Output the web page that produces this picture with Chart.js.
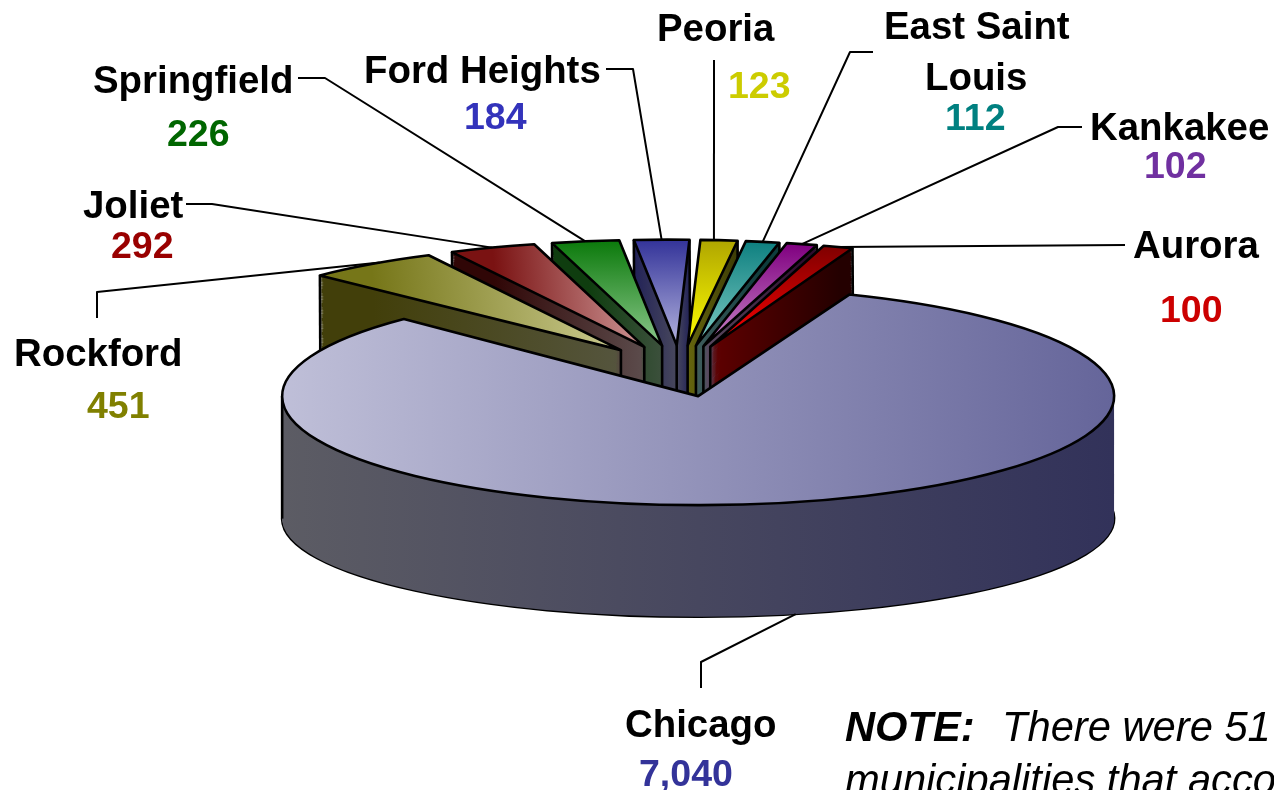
<!DOCTYPE html>
<html>
<head>
<meta charset="utf-8">
<title>Municipalities</title>
<script src="https://cdn.jsdelivr.net/npm/chart.js@4/dist/chart.umd.min.js"></script>
<style>
    html, body { margin: 0; padding: 0; background: #fff; overflow: hidden; }
    canvas { display: block; }
</style>
</head>
<body>
<canvas id="pie3d" width="1274" height="790"></canvas>
<script>
// Chart data
const categories = ['Chicago', 'Rockford', 'Joliet', 'Springfield', 'Ford Heights', 'Peoria', 'East Saint Louis', 'Kankakee', 'Aurora'];
const values = [7040, 451, 292, 226, 184, 123, 112, 102, 100];

// Colours: top face from/to, wall from/to
const topFrom = ['#bfbfd8', '#767618', '#7a1212', '#0c7a0c', '#333399', '#b0a600', '#0e8080', '#800080', '#800000'];
const topTo = ['#65659a', '#cbcb90', '#cc9494', '#8cc88c', '#b4b4de', '#ffff00', '#80ccc4', '#c888c8', '#ff0000'];
const wallFrom = ['#5c5c64', '#423f0a', '#300606', '#0f3d0f', '#222258', '#3c3c06', '#0e3c3c', '#2e0c2e', '#240000'];
const wallTo = ['#32325a', '#55553e', '#5c4c4c', '#3c503c', '#48485c', '#66660e', '#3f5c5c', '#5c4c62', '#600000'];
const valueColors = ['#333399', '#808000', '#990000', '#006600', '#3333bb', '#cccc00', '#008080', '#7030a0', '#cc0000'];
const horizontalFade = [true, true, true, false, false, false, false, false, false];

// Label layout, in the same order as categories
const nameLines = [['Chicago'], ['Rockford'], ['Joliet'], ['Springfield'], ['Ford Heights'], ['Peoria'], ['East Saint', 'Louis'], ['Kankakee'], ['Aurora']];
const nameX = [[625], [14], [83], [93], [364], [657], [884, 925], [1090], [1133]];
const nameY = [[737], [366], [218], [93], [83], [41], [39, 90], [140], [258]];
const valueX = [639, 87, 111, 167, 464, 728, 945, 1144, 1160];
const valueY = [786, 418, 258, 146, 129, 98, 130, 178, 322];
const leaders = [
    [[701, 688], [701, 662]],
    [[97, 318], [97, 292]],
    [[186, 204], [212, 204]],
    [[298, 78], [325, 78]],
    [[606, 69], [633, 69]],
    [[714, 60]],
    [[873, 52], [850, 52]],
    [[1082, 127], [1058, 127]],
    [[1125, 245]]
];
const leaderNudge = [-1.7, 1.5, 0, 0, 0, -0.7, 0, 0, 0]; // degrees along the rim

// 3D look of the pie
const radius = 416;
const explode = 98;
const tiltTop = 0.262;
const tiltBottom = 0.236;
const depth = 125;
const smallLean = 0.09;   // perspective lean of the small slices
const smallSquash = 0.97;
const fontFamily = '"Liberation Sans", Arial, sans-serif';

function midAngle(arc) {
    return (arc.startAngle + arc.endAngle) / 2;
}

function isBig(arc) {
    return arc.circumference > Math.PI;
}

// Where a layer of the slice sits: t = 0 is the top face, t = 1 the bottom face
function layer(arc, t) {
    const k = tiltTop + (tiltBottom - tiltTop) * t;
    const h = midAngle(arc);
    return {
        x: arc.x + explode * Math.cos(h),
        y: arc.y + explode * k * Math.sin(h) + depth * t,
        k: isBig(arc) ? k : k * smallSquash,
        lean: isBig(arc) ? 0 : smallLean
    };
}

function applyLayer(ctx, l) {
    ctx.translate(l.x, l.y);
    ctx.transform(1, 0, l.lean, 1, 0, 0);
    ctx.scale(1, l.k);
}

function rimPoint(arc, angle, t) {
    const l = layer(arc, t);
    const dy = arc.outerRadius * l.k * Math.sin(angle);
    return [l.x + arc.outerRadius * Math.cos(angle) + l.lean * dy, l.y + dy];
}

function facePath(ctx, arc, t) {
    const l = layer(arc, t);
    ctx.save();
    applyLayer(ctx, l);
    ctx.beginPath();
    ctx.moveTo(0, 0);
    ctx.arc(0, 0, arc.outerRadius, arc.startAngle, arc.endAngle);
    ctx.closePath();
    ctx.restore();
}

function fadeFor(ctx, arc, i, from, to) {
    const h = midAngle(arc);
    let g;
    if (i === 0) {
        g = ctx.createLinearGradient(arc.x - radius, 0, arc.x + radius, 0);
    } else if (horizontalFade[i] || from === wallFrom[i]) {
        g = ctx.createLinearGradient(arc.x + radius * Math.cos(h), 0, arc.x, 0);
        if (Math.abs(Math.cos(h)) < 0.1) g = ctx.createLinearGradient(0, arc.y - radius, 0, arc.y);
    } else {
        g = ctx.createLinearGradient(0, arc.y + radius * Math.sin(h), 0, arc.y);
    }
    g.addColorStop(0, from);
    g.addColorStop(1, to);
    return g;
}

// Draws the library's arc element squashed on to one layer
function drawLayer(ctx, arc, t, fill) {
    const keep = arc.options;
    arc.options = Object.assign({}, keep, { backgroundColor: fill, borderWidth: 0 });
    ctx.save();
    applyLayer(ctx, layer(arc, t));
    ctx.translate(-arc.x, -arc.y);
    arc.draw(ctx);
    ctx.restore();
    arc.options = keep;
}

function edge(ctx, a, b) {
    ctx.beginPath();
    ctx.moveTo(a[0], a[1]);
    ctx.lineTo(b[0], b[1]);
    ctx.stroke();
}

function drawSlice(ctx, arc, i) {
    ctx.strokeStyle = '#000';
    ctx.lineWidth = 2.6;
    ctx.lineJoin = 'round';

    facePath(ctx, arc, 1);
    ctx.stroke();

    const wall = fadeFor(ctx, arc, i, wallFrom[i], wallTo[i]);
    for (let n = depth; n >= 1; n--) {
        drawLayer(ctx, arc, n / depth, wall);
    }

    // vertical edges, only where the cut face turns toward the viewer
    const angles = [];
    if (Math.sin(arc.startAngle - Math.PI / 2) > 0) angles.push(arc.startAngle);
    if (Math.sin(arc.endAngle + Math.PI / 2) > 0) angles.push(arc.endAngle);
    [Math.PI, Math.PI * 2, Math.PI * 3].forEach(a => {
        if (a > arc.startAngle && a < arc.endAngle) angles.push(a);
    });
    angles.forEach(a => edge(ctx, rimPoint(arc, a, 0), rimPoint(arc, a, 1)));
    if (!isBig(arc)) {
        const top = layer(arc, 0), bottom = layer(arc, 1);
        edge(ctx, [top.x, top.y], [bottom.x, bottom.y]);
    }

    drawLayer(ctx, arc, 0, fadeFor(ctx, arc, i, topFrom[i], topTo[i]));
    facePath(ctx, arc, 0);
    ctx.stroke();
}

function drawLabels(chart) {
    const ctx = chart.ctx;
    const arcs = chart.getDatasetMeta(0).data;
    ctx.save();
    ctx.textAlign = 'left';
    ctx.textBaseline = 'alphabetic';

    // leader lines end on the middle of each slice's rim
    ctx.strokeStyle = '#000';
    ctx.lineWidth = 2;
    arcs.forEach((arc, i) => {
        const end = rimPoint(arc, midAngle(arc) + leaderNudge[i] * Math.PI / 180, i === 0 ? 1 : 0);
        ctx.beginPath();
        leaders[i].forEach((p, n) => (n ? ctx.lineTo(p[0], p[1]) : ctx.moveTo(p[0], p[1])));
        ctx.lineTo(end[0], end[1]);
        ctx.stroke();
    });

    categories.forEach((c, i) => {
        ctx.font = 'bold 38.4px ' + fontFamily;
        ctx.fillStyle = '#000';
        nameLines[i].forEach((line, n) => ctx.fillText(line, nameX[i][n], nameY[i][n]));
        ctx.font = 'bold 37.5px ' + fontFamily;
        ctx.fillStyle = valueColors[i];
        ctx.fillText(values[i].toLocaleString('en-US'), valueX[i], valueY[i]);
    });

    ctx.fillStyle = '#000';
    ctx.font = 'italic bold 41.7px ' + fontFamily;
    ctx.fillText('NOTE:', 845, 741);
    ctx.font = 'italic 41.7px ' + fontFamily;
    ctx.fillText('There were 51', 1002, 741);
    ctx.fillText('municipalities that acco', 845, 794);
    ctx.restore();
}

const pie3d = {
    id: 'pie3d',
    beforeDatasetsDraw(chart) {
        const ctx = chart.ctx;
        const arcs = chart.getDatasetMeta(0).data;
        // back slices first, the ones nearest the sides last, Chicago on top
        const order = arcs.map((arc, i) => i).slice(1)
            .sort((a, b) => Math.abs(Math.cos(midAngle(arcs[a]))) - Math.abs(Math.cos(midAngle(arcs[b]))));
        order.push(0);
        order.forEach(i => drawSlice(ctx, arcs[i], i));
        drawLabels(chart);
        return false;
    }
};

new Chart(document.getElementById('pie3d').getContext('2d'), {
    type: 'pie',
    data: {
        labels: categories,
        datasets: [{
            data: values,
            backgroundColor: topFrom,
            borderWidth: 0
        }]
    },
    options: {
        responsive: false,
        animation: false,
        rotation: 21.3,
        radius: radius,
        layout: { padding: { left: 82, bottom: 48 } },
        plugins: {
            legend: { display: false },
            tooltip: { enabled: false }
        }
    },
    plugins: [pie3d]
});
</script>
</body>
</html>
